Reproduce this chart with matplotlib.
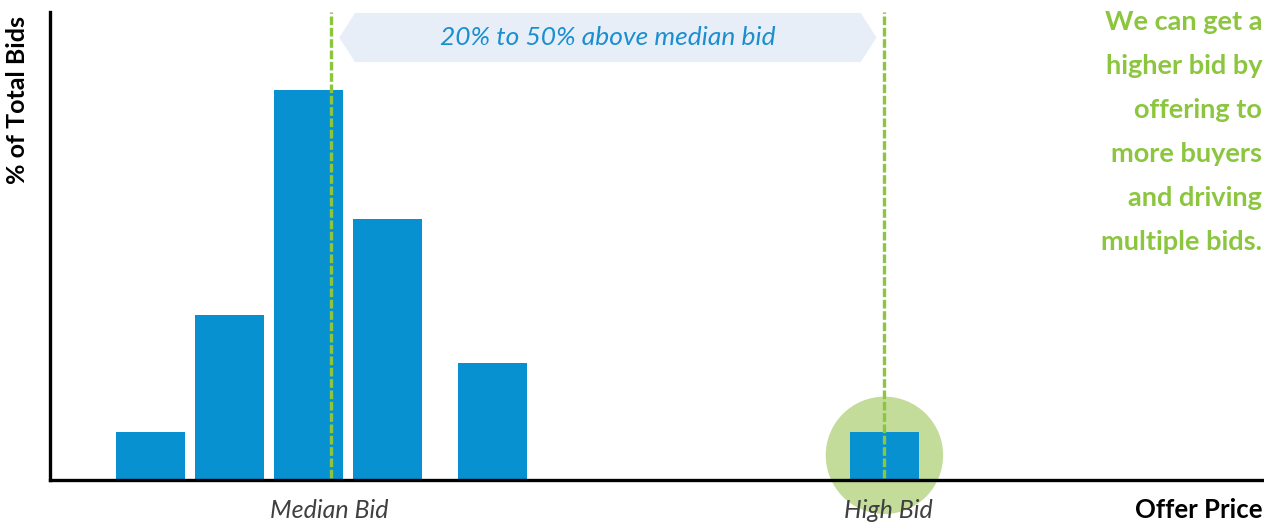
import matplotlib
matplotlib.use('Agg')
import matplotlib.pyplot as plt
import matplotlib.transforms as mtransforms
from matplotlib.patches import Polygon, Ellipse

# bid distribution (offer price position, % of total bids)
bar_pos = [1.0, 2.0, 3.0, 4.0, 5.33, 10.29]
bar_pct = [4.7, 16.0, 37.9, 25.4, 11.4, 4.7]
median_bid = 3.28
high_bid = 10.29
note_lines = ["We can get a", "higher bid by", "offering to",
              "more buyers", "and driving", "multiple bids."]

blue = '#0891d1'
green = '#8cc63f'

fig = plt.figure(figsize=(12.64, 5.23), dpi=100)
ax = fig.add_axes([0.0396, 0.0822, 0.9589, 0.8948])
ax.set_xlim(-0.27, 15.07)
ax.set_ylim(0, 45.5)

# green highlight circle behind the high bid
circ = Ellipse((high_bid, 2.4), width=116 / 79, height=116 / 10.29,
               color='#c4dc9a', zorder=1, clip_on=False)
ax.add_patch(circ)

ax.bar(bar_pos, bar_pct, width=69 / 79, color=blue, zorder=2)

for xv in (median_bid, high_bid):
    ax.axvline(xv, ymin=0.004, ymax=1.0, color=green, lw=2.4,
               linestyle=(0, (2.6, 0.8)), zorder=3)

# banner arrow between the two lines
trans = mtransforms.blended_transform_factory(ax.transData, ax.transAxes)
x0, x1 = median_bid + 0.11, high_bid - 0.1
tip = 0.2
y_top, y_bot = 0.998, 0.893
y_mid = (y_top + y_bot) / 2
banner = Polygon([(x0, y_mid), (x0 + tip, y_top), (x1 - tip, y_top),
                  (x1, y_mid), (x1 - tip, y_bot), (x0 + tip, y_bot)],
                 closed=True, transform=trans, facecolor='#e8eef8',
                 edgecolor='none', zorder=1, clip_on=False)
ax.add_patch(banner)
ax.text((x0 + x1) / 2, y_mid, "20% to 50% above median bid", transform=trans,
        ha='center', va='center', fontsize=19, style='italic',
        color='#1a8fd0', family='Lato', zorder=4)

# side note
for i, line in enumerate(note_lines):
    fig.text(0.9985, 1 - (22 + 44 * i) / 523, line, ha='right', va='center',
             fontsize=19.5, fontweight='bold', color=green, family='Lato')

ax.set_xticks([])
ax.set_yticks([])
for s in ('top', 'right'):
    ax.spines[s].set_visible(False)
for s in ('left', 'bottom'):
    ax.spines[s].set_linewidth(2.4)
    ax.spines[s].set_color('black')
    ax.spines[s].set_zorder(5)

fig.text(18 / 1264, 1 - 100 / 523, "% of Total Bids", rotation=90,
         ha='center', va='center', fontsize=18, fontweight='bold', family='Lato')

lab_y = 1 - 510 / 523
fig.text(329 / 1264, lab_y, "Median Bid", ha='center', va='center',
         fontsize=18, style='italic', color='#404040', family='Lato')
fig.text(888 / 1264, lab_y, "High Bid", ha='center', va='center',
         fontsize=18, style='italic', color='#404040', family='Lato')
fig.text(0.9985, lab_y, "Offer Price", ha='right', va='center',
         fontsize=18.5, fontweight='bold', color='black', family='Lato')

fig.savefig('out.png', dpi=100, facecolor='white')
